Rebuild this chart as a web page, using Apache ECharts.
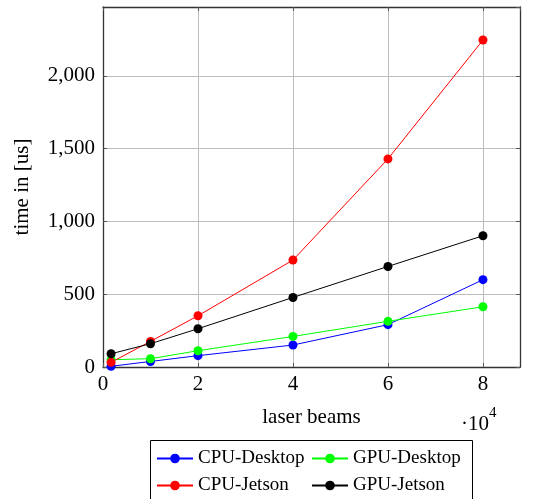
<!DOCTYPE html>
<html><head><meta charset="utf-8">
<script src="https://cdn.jsdelivr.net/npm/echarts@6/dist/echarts.min.js"></script>
<style>html,body{margin:0;padding:0;background:#fff}#c{width:543px;height:499px}</style>
</head><body><div id="c"></div>
<script>
const beams = [0.17, 1, 2, 4, 6, 8]; // x 10^4
const cpuDesktop = [5, 38, 78, 151, 291, 600];
const gpuDesktop = [50, 57, 112, 210, 314, 414];
const cpuJetson = [32, 176, 352, 735, 1430, 2247];
const gpuJetson = [91, 160, 263, 478, 691, 902];
const seriesNames = ['CPU-Desktop', 'GPU-Desktop', 'CPU-Jetson', 'GPU-Jetson'];
const seriesColors = ['#0000ff', '#00ff00', '#ff0000', '#000000'];
const seriesValues = [cpuDesktop, gpuDesktop, cpuJetson, gpuJetson];

const FONT = 'Liberation Serif';
const chart = echarts.init(document.getElementById('c'), null, {renderer: 'canvas'});
const fmt = v => Math.round(v).toString().replace(/\B(?=(\d{3})+(?!\d))/g, ',');
const series = seriesNames.map((n, i) => ({
  name: n, type: 'line', data: beams.map((x, j) => [x, seriesValues[i][j]]),
  symbol: 'circle', symbolSize: 9, showSymbol: true,
  lineStyle: {color: seriesColors[i], width: 1}, itemStyle: {color: seriesColors[i]},
  emphasis: {disabled: true}, animation: false, z: 3
}));
const axisLineStyle = {show: true, onZero: false, lineStyle: {color: '#333', width: 1.3}};
const tickStyle = {show: true, inside: true, length: 4, lineStyle: {color: '#555'}};
chart.setOption({
  animation: false,
  grid: {left: 103, right: 23, top: 7, bottom: 132, containLabel: false},
  xAxis: [{
    type: 'value', min: 0, max: 8.78, interval: 2, position: 'bottom',
    axisLine: axisLineStyle, axisTick: tickStyle,
    splitLine: {show: true, lineStyle: {color: '#bdbdbd', width: 1}},
    axisLabel: {fontFamily: FONT, fontSize: 21, color: '#000', margin: 7, showMaxLabel: false,
      formatter: v => (Math.abs(v - Math.round(v)) < 1e-6 ? String(v) : '')},
    name: 'laser beams', nameLocation: 'middle', nameGap: 40,
    nameTextStyle: {fontFamily: FONT, fontSize: 21, color: '#000'}
  }, {
    type: 'value', min: 0, max: 8.78, interval: 2, position: 'top',
    axisLine: axisLineStyle, axisTick: tickStyle, axisLabel: {show: false}, splitLine: {show: false}
  }],
  yAxis: [{
    type: 'value', min: 0, max: 2474, interval: 500, position: 'left',
    axisLine: axisLineStyle, axisTick: tickStyle,
    splitLine: {show: true, lineStyle: {color: '#bdbdbd', width: 1}},
    axisLabel: {fontFamily: FONT, fontSize: 21, color: '#000', margin: 8, showMaxLabel: false,
      formatter: v => (v % 500 === 0 ? fmt(v) : '')},
    name: 'time in [us]', nameLocation: 'middle', nameGap: 70, nameRotate: 90,
    nameTextStyle: {fontFamily: FONT, fontSize: 21, color: '#000'}
  }, {
    type: 'value', min: 0, max: 2474, interval: 500, position: 'right',
    axisLine: axisLineStyle, axisTick: tickStyle, axisLabel: {show: false}, splitLine: {show: false}
  }],
  legend: [{
    data: [seriesNames[0], seriesNames[2]], orient: 'vertical', left: 156, top: 449,
    itemWidth: 36, itemHeight: 12, itemGap: 8, padding: 0,
    textStyle: {fontFamily: FONT, fontSize: 19, color: '#000', padding: [0, 0, 0, 0]}
  }, {
    data: [seriesNames[1], seriesNames[3]], orient: 'vertical', left: 311, top: 449,
    itemWidth: 36, itemHeight: 12, itemGap: 8, padding: 0,
    textStyle: {fontFamily: FONT, fontSize: 19, color: '#000', padding: [0, 0, 0, 0]}
  }],
  graphic: [{
    type: 'rect', shape: {x: 150.5, y: 440.5, width: 322, height: 70},
    style: {fill: 'none', stroke: '#000', lineWidth: 1}, silent: true
  }, {
    type: 'text', left: 461, top: 406,
    style: {text: '{a|·10}{b|4}', rich: {
      a: {fontFamily: FONT, fontSize: 21, fill: '#000', verticalAlign: 'bottom', padding: [8, 0, 0, 0]},
      b: {fontFamily: FONT, fontSize: 15, fill: '#000', verticalAlign: 'top'}
    }}
  }],
  series: series
});
</script></body></html>
